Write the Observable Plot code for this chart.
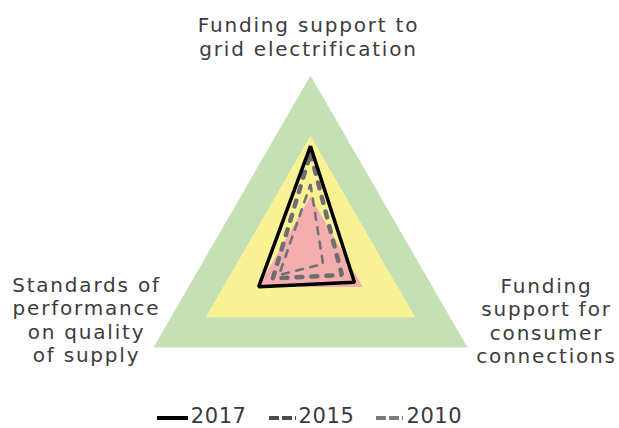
<!DOCTYPE html>
<html>
<head>
<meta charset="utf-8">
<script src="https://cdn.jsdelivr.net/npm/d3@7"></script>
<script src="https://cdn.jsdelivr.net/npm/@observablehq/plot@0.6"></script>
<style>
  html, body { margin: 0; padding: 0; background: #fff; }
  body { width: 619px; height: 428px; overflow: hidden; position: relative; font-family: "DejaVu Sans", sans-serif; }
  #chart svg { display: block; }
  #chart svg text { letter-spacing: 1.8px; }
  #legend { position: absolute; left: 0; top: 403.5px; width: 619px; height: 24px; display: flex; justify-content: center; align-items: center;
    font-size: 21px; color: #3a3a3a; letter-spacing: 0.6px; line-height: 24px; }
  .item { display: flex; align-items: center; margin: 0 11px; height: 24px; }
  .item svg { margin-right: 3px; }
</style>
</head>
<body>
<div id="chart"></div>
<div id="legend"></div>
<script>
// ---- data ----
const axisNames = ["Funding support to grid electrification", "Funding support for consumer connections", "Standards of performance on quality of supply"];
const axisLabelLines = [
  ["Funding support to", "grid electrification"],
  ["Funding", "support for", "consumer", "connections"],
  ["Standards of", "performance", "on quality", "of supply"]
];
const zoneLevels = [100, 66.7, 33.3];
const zoneColors = ["#c6e0b5", "#f8f295", "#f5aeb0"];
const years = ["2017", "2015", "2010"];
const values2017 = [61, 28, 33];
const values2015 = [57, 20, 24];
const values2010 = [40, 8, 20];

// ---- geometry helpers ----
const angles = [90, -30, 210].map(d => d * Math.PI / 180);
const W = 619, H = 404;
const k = 1.813;            // pixels per unit
const cx = 310, cy = 256.3; // pixel centre
function polygon(vals, name) {
  return vals.map((v, i) => ({x: v * Math.cos(angles[i]), y: v * Math.sin(angles[i]), name}));
}

const zoneMarks = zoneLevels.map((lv, i) =>
  Plot.line(polygon([lv, lv, lv], "zone" + i), {x: "x", y: "y", fill: zoneColors[i], stroke: "none", curve: "linear-closed"})
);

const seriesValues = [values2017, values2015, values2010];
const seriesStyle = [
  {stroke: "#000", strokeWidth: 3.5, strokeDasharray: null, strokeLinecap: "butt"},
  {stroke: "#6e6e6e", strokeWidth: 4.5, strokeDasharray: "6,9", strokeLinecap: "round"},
  {stroke: "#727272", strokeWidth: 2.6, strokeDasharray: "7,7.5", strokeLinecap: "round"}
];
const seriesMarks = seriesValues.slice().reverse().map((vals, j) => {
  const i = seriesValues.length - 1 - j;
  const s = seriesStyle[i];
  const opts = {x: "x", y: "y", stroke: s.stroke, strokeWidth: s.strokeWidth, strokeLinejoin: "miter", strokeLinecap: s.strokeLinecap, curve: "linear-closed"};
  if (s.strokeDasharray) opts.strokeDasharray = s.strokeDasharray;
  return Plot.line(polygon(vals, years[i]), opts);
});

// label anchor points at the end of each axis
const labelOffsets = [[-2, -20], [79, -27], [-67, -28]];
const labelAnchors = ["bottom", "middle", "middle"];
const labelMarks = axisLabelLines.map((lines, i) =>
  Plot.text([{x: 100 * Math.cos(angles[i]), y: 100 * Math.sin(angles[i]), t: lines.join("\n")}], {
    x: "x", y: "y", text: "t", dx: labelOffsets[i][0], dy: labelOffsets[i][1],
    lineAnchor: labelAnchors[i], lineHeight: 1.175, fontSize: 20, fill: "#3c3c3c",
    textAnchor: "middle", fontFamily: "DejaVu Sans"
  })
);

const chart = Plot.plot({
  width: W, height: H, margin: 0,
  x: {domain: [-cx / k, (W - cx) / k], axis: null},
  y: {domain: [(cy - H) / k, cy / k], axis: null},
  style: {fontFamily: "DejaVu Sans", background: "#fff"},
  marks: [...zoneMarks, ...seriesMarks, ...labelMarks]
});
document.getElementById("chart").append(chart);

// ---- legend ----
const legendSw = [
  {color: "#000", dash: null, w: 31},
  {color: "#4a4a4a", dash: "10,3", w: 27},
  {color: "#7a7a7a", dash: "10,3", w: 27}
];
const leg = d3.select("#legend");
years.forEach((y, i) => {
  const it = leg.append("div").attr("class", "item");
  const sv = it.append("svg").attr("width", legendSw[i].w).attr("height", 10).style("margin-top", "4px");
  const ln = sv.append("line").attr("x1", 0).attr("x2", legendSw[i].w).attr("y1", 5).attr("y2", 5)
    .attr("stroke", legendSw[i].color).attr("stroke-width", 4);
  if (legendSw[i].dash) ln.attr("stroke-dasharray", legendSw[i].dash);
  it.append("span").text(y);
});
</script>
</body>
</html>
